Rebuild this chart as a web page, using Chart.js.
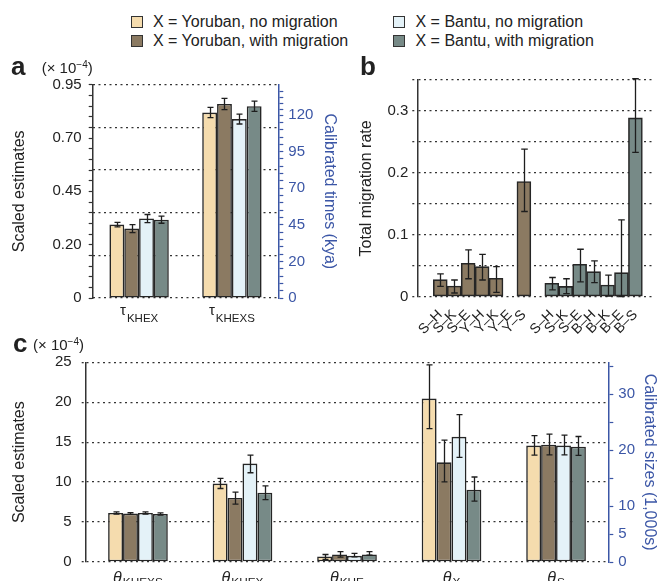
<!DOCTYPE html>
<html>
<head>
<meta charset="utf-8">
<script src="https://cdn.jsdelivr.net/npm/chart.js@4.4.1/dist/chart.umd.min.js"></script>
<style>
  body { margin: 0; width: 660px; height: 581px; overflow: hidden; background: #fff; position: relative;
         font-family: "Liberation Sans", Arial, sans-serif; color: #222; }
  canvas { position: absolute; }
  .key { position: absolute; font-size: 16px; line-height: 19px; white-space: nowrap; }
  .key i { display: inline-block; width: 10px; height: 10px; border: 1px solid #333; margin-right: 10.5px; vertical-align: -1px; }
  .pl { position: absolute; font-weight: bold; font-size: 26px; line-height: 26px; }
  .sc { position: absolute; font-size: 15px; line-height: 15px; white-space: nowrap; }
  .sc sup { font-size: 10px; vertical-align: 5px; line-height: 0; }
</style>
</head>
<body>
<canvas id="ca" width="340" height="265" style="left:0;top:60px"></canvas>
<canvas id="cb" width="320" height="290" style="left:340px;top:50px"></canvas>
<canvas id="cc" width="660" height="241" style="left:0;top:340px"></canvas>

<div class="key" style="left:130.5px;top:11.5px"><i style="background:#f5dcae"></i>X = Yoruban, no migration</div>
<div class="key" style="left:130.5px;top:30.5px"><i style="background:#8b7a62"></i>X = Yoruban, with migration</div>
<div class="key" style="left:393px;top:11.5px"><i style="background:#e4f2f8"></i>X = Bantu, no migration</div>
<div class="key" style="left:393px;top:30.5px"><i style="background:#778a87"></i>X = Bantu, with migration</div>

<div class="pl" style="left:11px;top:53px">a</div>
<div class="sc" style="left:41.7px;top:59.5px">(× 10<sup>−4</sup>)</div>
<div class="pl" style="left:360px;top:53px">b</div>
<div class="pl" style="left:13px;top:330px">c</div>
<div class="sc" style="left:33px;top:337px">(× 10<sup>−4</sup>)</div>

<script>
// ---- panel a: divergence times (x 10^-4)
const tauSubs = ['KHEX', 'KHEXS'];
const tauYorNo = [0.327, 0.826];
const tauYorNoLo = [0.317, 0.803];
const tauYorNoHi = [0.337, 0.849];
const tauYorMig = [0.309, 0.864];
const tauYorMigLo = [0.291, 0.839];
const tauYorMigHi = [0.327, 0.889];
const tauBanNo = [0.354, 0.797];
const tauBanNoLo = [0.336, 0.775];
const tauBanNoHi = [0.372, 0.819];
const tauBanMig = [0.349, 0.854];
const tauBanMigLo = [0.333, 0.831];
const tauBanMigHi = [0.365, 0.877];
const tauLeftTicks = [0, 0.2375, 0.475, 0.7125, 0.95];
const tauLeftLabels = ['0', '0.20', '0.45', '0.70', '0.95'];
const tauRightLabels = ['0', '20', '45', '70', '95', '120'];

// ---- panel b: total migration rates
const migLabels = ['S–H', 'S–K', 'S–E', 'Y–H', 'Y–K', 'Y–E', 'Y–S', '',
                   'S–H', 'S–K', 'S–E', 'B–H', 'B–K', 'B–E', 'B–S'];
const migYorPos = [0, 1, 2, 3, 4, 5, 6];
const migYor = [0.0275, 0.0173, 0.054, 0.0486, 0.0297, 0, 0.186];
const migYorLo = [0.0167, 0.006, 0.029, 0.027, 0.007, 0, 0.1376];
const migYorHi = [0.037, 0.027, 0.0755, 0.0685, 0.0486, 0, 0.2385];
const migBanPos = [8, 9, 10, 11, 12, 13, 14];
const migBan = [0.0216, 0.0167, 0.0523, 0.0405, 0.0189, 0.0389, 0.2887];
const migBanLo = [0.011, 0.005, 0.024, 0.0227, 0.001, 0, 0.233];
const migBanHi = [0.031, 0.029, 0.0766, 0.058, 0.035, 0.124, 0.352];
const migTicks = [0, 0.05, 0.1, 0.15, 0.2, 0.25, 0.3, 0.35];
const migTickLabels = ['0', '', '0.1', '', '0.2', '', '0.3', ''];

// ---- panel c: population sizes (x 10^-4)
const thetaSubs = ['KHEXS', 'KHEX', 'KHE', 'X', 'S'];
const thetaYorNo = [6.14, 9.82, 0.69, 20.46, 14.57];
const thetaYorNoLo = [6.0, 9.2, 0.34, 16.69, 13.38];
const thetaYorNoHi = [6.28, 10.47, 0.94, 24.67, 15.83];
const thetaYorMig = [6.06, 8.02, 0.94, 12.48, 14.69];
const thetaYorMigLo = [5.95, 7.24, 0.6, 10.02, 13.42];
const thetaYorMigHi = [6.17, 8.76, 1.29, 15.26, 16.0];
const thetaBanNo = [6.14, 12.32, 0.77, 15.67, 14.57];
const thetaBanNoLo = [6.0, 11.17, 0.64, 13.09, 13.42];
const thetaBanNoHi = [6.28, 13.38, 1.07, 18.45, 15.88];
const thetaBanMig = [6.01, 8.67, 0.94, 9.04, 14.44];
const thetaBanMigLo = [5.88, 7.81, 0.86, 7.61, 13.34];
const thetaBanMigHi = [6.14, 9.53, 1.29, 10.64, 15.71];
const thetaLeftTicks = [0, 5, 10, 15, 20, 25];
const thetaRightTicks = [0, 5, 10, 15, 20, 25, 30, 35];
const thetaRightLabels = ['0', '5', '10', '', '20', '', '30', ''];

const colors = ['#f5dcae', '#8b7a62', '#e4f2f8', '#778a87'];
const BLUE = '#3b56a6';
const INK = '#222';
const EDGE = '#262626';
const DASH = [2, 3.5];
const FONT = '"Liberation Sans", Arial, sans-serif';

Chart.defaults.font.family = FONT;
Chart.defaults.color = INK;
Chart.defaults.animation = false;

// draw error bars from each dataset's errLo / errHi
const errorBars = {
  id: 'errorBars',
  afterDatasetsDraw(chart, args, opts) {
    const ctx = chart.ctx;
    const cap = opts.cap || 3;
    ctx.save();
    ctx.strokeStyle = '#1e1e1e';
    ctx.lineWidth = 1.3;
    chart.data.datasets.forEach((ds, di) => {
      if (!ds.errLo) return;
      const meta = chart.getDatasetMeta(di);
      const ys = chart.scales[meta.yAxisID];
      meta.data.forEach((bar, i) => {
        const lo = ds.errLo[i], hi = ds.errHi[i];
        if (lo == null || hi == null || hi === lo) return;
        const x = Math.round(bar.x) + 0.5;
        const y1 = ys.getPixelForValue(hi), y2 = ys.getPixelForValue(lo);
        ctx.beginPath();
        ctx.moveTo(x, y1); ctx.lineTo(x, y2);
        ctx.moveTo(x - cap, y1); ctx.lineTo(x + cap, y1);
        ctx.moveTo(x - cap, y2); ctx.lineTo(x + cap, y2);
        ctx.stroke();
      });
    });
    ctx.restore();
  }
};

// category labels with a Greek symbol and a subscript
function subLabels(sym, symFont, symY, subFont, subY) {
  return {
    id: 'subLabels',
    afterDraw(chart) {
      const xs = chart.scales.x, ctx = chart.ctx;
      ctx.save();
      ctx.fillStyle = INK;
      ctx.textBaseline = 'alphabetic';
      chart.data.labels.forEach((sub, i) => {
        const x = xs.getPixelForTick(i);
        ctx.font = symFont;
        const w1 = ctx.measureText(sym).width;
        ctx.font = subFont;
        const w2 = ctx.measureText(sub).width;
        const x0 = x - (w1 + w2 + 1) / 2;
        ctx.font = symFont;
        ctx.fillText(sym, x0, symY);
        ctx.font = subFont;
        ctx.fillText(sub, x0 + w1 + 1, subY);
      });
      ctx.restore();
    }
  };
}

function groupSets(series) {
  return series.map((s, k) => ({
    label: s.name,
    data: s.v,
    errLo: s.lo,
    errHi: s.hi,
    backgroundColor: colors[k],
    borderColor: EDGE,
    borderWidth: 1.6,
    borderSkipped: false
  }));
}

function minorTicks(majors, parts) {
  const out = [];
  for (let i = 0; i < majors.length - 1; i++) {
    for (let j = 0; j < parts; j++) out.push({ value: majors[i] + (majors[i + 1] - majors[i]) * j / parts });
  }
  out.push({ value: majors[majors.length - 1] });
  return out;
}

const noTip = { legend: { display: false }, tooltip: { enabled: false } };

// ---------- panel a
new Chart(document.getElementById('ca'), {
  type: 'bar',
  data: {
    labels: tauSubs,
    datasets: groupSets([
      { name: 'Yoruban, no migration', v: tauYorNo, lo: tauYorNoLo, hi: tauYorNoHi },
      { name: 'Yoruban, with migration', v: tauYorMig, lo: tauYorMigLo, hi: tauYorMigHi },
      { name: 'Bantu, no migration', v: tauBanNo, lo: tauBanNoLo, hi: tauBanNoHi },
      { name: 'Bantu, with migration', v: tauBanMig, lo: tauBanMigLo, hi: tauBanMigHi }
    ])
  },
  options: {
    responsive: false,
    layout: { padding: { top: 24.7, left: 0, right: 0, bottom: 0 } },
    plugins: { ...noTip, errorBars: { cap: 3 } },
    datasets: { bar: { categoryPercentage: 0.64, barPercentage: 1 } },
    scales: {
      x: {
        ticks: { display: false },
        grid: { display: false },
        border: { display: false },
        afterFit: s => { s.height = 27; }
      },
      y: {
        position: 'left',
        min: 0, max: 0.95,
        afterBuildTicks: s => { s.ticks = minorTicks(tauLeftTicks, 5); },
        ticks: {
          autoSkip: false, padding: 7, font: { size: 15 }, color: INK,
          callback: (v, i) => (i % 5 === 0 ? tauLeftLabels[i / 5] : '')
        },
        grid: { drawOnChartArea: false, tickLength: 4, tickColor: '#333', tickWidth: 1.2 },
        border: { color: '#333', width: 1.5 },
        title: { display: true, text: 'Scaled estimates', font: { size: 16 }, color: INK, padding: { top: 10.4, bottom: 0 } },
        afterFit: s => { s.width = 92.7; }
      },
      g: {
        position: 'left',
        min: 0, max: 5,
        ticks: { display: false, stepSize: 1 },
        grid: { drawTicks: false, color: '#333', lineWidth: 1.3 },
        border: { display: false, dash: DASH },
        afterFit: s => { s.width = 0; }
      },
      y2: {
        position: 'right',
        min: 0, max: 5.83,
        afterBuildTicks: s => { s.ticks = minorTicks([0, 1, 2, 3, 4, 5, 5.8], 5).filter(t => t.value <= 5.81); },
        ticks: {
          autoSkip: false, padding: 5, font: { size: 15 }, color: BLUE,
          callback: (v, i) => (i % 5 === 0 ? tauRightLabels[i / 5] : '')
        },
        grid: { drawOnChartArea: false, tickLength: 5, tickColor: BLUE, tickWidth: 1.2 },
        border: { color: BLUE, width: 1.5 },
        title: { display: true, text: 'Calibrated times (kya)', font: { size: 16 }, color: BLUE, padding: { top: 1.4, bottom: 0 } },
        afterFit: s => { s.width = 61.7; }
      }
    }
  },
  plugins: [errorBars, subLabels('τ', '15px ' + FONT, 254.5, '11.5px ' + FONT, 261.5)]
});

// ---------- panel b
new Chart(document.getElementById('cb'), {
  type: 'bar',
  data: {
    datasets: [
      {
        label: 'Yoruban, with migration',
        data: migYor.map((v, i) => ({ x: migYorPos[i], y: v })),
        errLo: migYorLo, errHi: migYorHi,
        backgroundColor: colors[1]
      },
      {
        label: 'Bantu, with migration',
        data: migBan.map((v, i) => ({ x: migBanPos[i], y: v })),
        errLo: migBanLo, errHi: migBanHi,
        backgroundColor: colors[3]
      }
    ]
  },
  options: {
    responsive: false,
    layout: { padding: { top: 30, left: 0, right: 6.7, bottom: 0 } },
    plugins: { ...noTip, errorBars: { cap: 3.3 } },
    datasets: {
      bar: { grouped: false, categoryPercentage: 1, barPercentage: 1, borderColor: EDGE, borderWidth: 1.6, borderSkipped: false }
    },
    scales: {
      x: {
        type: 'linear',
        min: -1.085, max: 14.72,
        afterBuildTicks: s => { s.ticks = migLabels.map((_, i) => ({ value: i })); },
        ticks: {
          autoSkip: false, minRotation: 45, maxRotation: 45, padding: 2, font: { size: 14 }, color: INK,
          callback: v => migLabels[v]
        },
        grid: { display: false },
        border: { display: false },
        afterFit: s => { s.height = 43.3; }
      },
      y: {
        min: 0, max: 0.35,
        afterBuildTicks: s => { s.ticks = migTicks.map(v => ({ value: v })); },
        ticks: { autoSkip: false, padding: 4, font: { size: 15 }, color: INK, callback: (v, i) => migTickLabels[i] },
        grid: { color: '#333', lineWidth: 1.3, tickLength: 5, tickColor: '#333', tickWidth: 1.3, tickBorderDash: DASH },
        border: { color: '#333', width: 1.5, dash: DASH },
        title: { display: true, text: 'Total migration rate', font: { size: 16 }, color: INK, padding: { top: 17.4, bottom: 0 } },
        afterFit: s => { s.width = 77.3; }
      }
    }
  },
  plugins: [errorBars]
});

// ---------- panel c
new Chart(document.getElementById('cc'), {
  type: 'bar',
  data: {
    labels: thetaSubs,
    datasets: groupSets([
      { name: 'Yoruban, no migration', v: thetaYorNo, lo: thetaYorNoLo, hi: thetaYorNoHi },
      { name: 'Yoruban, with migration', v: thetaYorMig, lo: thetaYorMigLo, hi: thetaYorMigHi },
      { name: 'Bantu, no migration', v: thetaBanNo, lo: thetaBanNoLo, hi: thetaBanNoHi },
      { name: 'Bantu, with migration', v: thetaBanMig, lo: thetaBanMigLo, hi: thetaBanMigHi }
    ])
  },
  options: {
    responsive: false,
    layout: { padding: { top: 22.3, left: 0, right: 0, bottom: 0 } },
    plugins: { ...noTip, errorBars: { cap: 3 } },
    datasets: { bar: { categoryPercentage: 0.571, barPercentage: 1 } },
    scales: {
      x: {
        ticks: { display: false },
        grid: { display: false },
        border: { display: false },
        afterFit: s => { s.height = 15; }
      },
      y: {
        position: 'left',
        min: 0, max: 25,
        afterBuildTicks: s => { s.ticks = thetaLeftTicks.map(v => ({ value: v })); },
        ticks: { autoSkip: false, padding: 10, font: { size: 15 }, color: INK },
        grid: { color: '#333', lineWidth: 1.3, tickLength: 4, tickColor: '#333', tickWidth: 1.3, tickBorderDash: DASH },
        border: { color: '#333', width: 1.5, dash: DASH },
        title: { display: true, text: 'Scaled estimates', font: { size: 16 }, color: INK, padding: { top: 10.4, bottom: 0 } },
        afterFit: s => { s.width = 85.7; }
      },
      y2: {
        position: 'right',
        min: 0, max: 35.73,
        afterBuildTicks: s => { s.ticks = thetaRightTicks.map(v => ({ value: v })); },
        ticks: { autoSkip: false, padding: 5, font: { size: 15 }, color: BLUE, callback: (v, i) => thetaRightLabels[i] },
        grid: { drawOnChartArea: false, tickLength: 5, tickColor: BLUE, tickWidth: 1.2 },
        border: { color: BLUE, width: 1.5 },
        title: { display: true, text: 'Calibrated sizes (1,000s)', font: { size: 16 }, color: BLUE, padding: { top: 1.4, bottom: 0 } },
        afterFit: s => { s.width = 51.7; }
      }
    }
  },
  plugins: [errorBars, subLabels('θ', 'italic 16px ' + FONT, 243, '11.8px ' + FONT, 245.5)]
});
</script>
</body>
</html>
